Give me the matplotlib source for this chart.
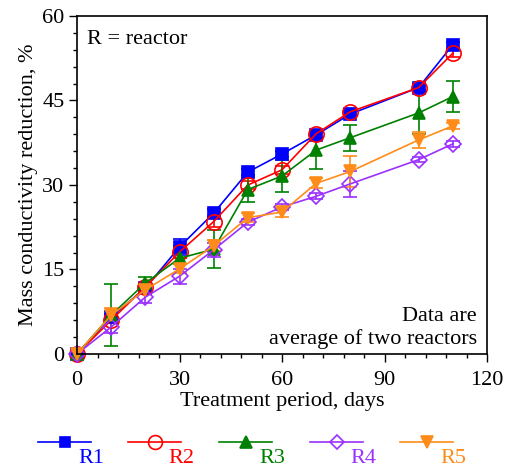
import numpy as np
import matplotlib
matplotlib.use("Agg")
import matplotlib.pyplot as plt
from matplotlib.lines import Line2D

plt.rcParams['font.family'] = ['Liberation Serif', 'DejaVu Serif']
plt.rcParams['font.size'] = 16

# treatment days and mean reduction (%) for each reactor
days = [0, 10, 20, 30, 40, 50, 60, 70, 80, 100, 110]
r1 = [0, 6.6, 11.7, 19.0, 25.0, 32.3, 35.5, 38.9, 42.6, 47.3, 54.9]
r2 = [0, 6.0, 11.9, 18.1, 23.5, 30.0, 32.7, 39.1, 43.0, 47.3, 53.4]
r3 = [0, 6.9, 12.6, 17.0, 18.6, 29.2, 31.6, 36.2, 38.4, 42.8, 45.7]
r4 = [0, 4.8, 10.1, 13.8, 18.5, 23.4, 26.1, 28.0, 30.2, 34.5, 37.3]
r5 = [0, 6.9, 11.4, 15.1, 19.2, 24.2, 25.2, 30.3, 32.4, 38.0, 40.5]

# standard deviations
e1 = [0, 0.5, 0.5, 1.4, 0.7, 0.5, 0.5, 0.5, 0.5, 0.5, 0.5]
e2 = [0, 0.5, 0.5, 1.0, 1.0, 0.7, 0.7, 0.5, 0.5, 0.7, 0.7]
e3 = [0, 5.5, 1.0, 1.0, 3.4, 2.3, 2.8, 3.4, 2.3, 3.7, 2.8]
e4 = [0, 1.0, 1.0, 1.3, 1.2, 0.5, 0.5, 0.5, 2.3, 0.5, 0.5]
e5 = [0, 1.2, 0.8, 0.8, 1.0, 0.8, 0.8, 0.9, 2.7, 1.4, 0.5]

labels = ['R1', 'R2', 'R3', 'R4', 'R5']
colors = ['#0000ff', '#ff0000', '#008000', '#9b30ff', '#ff8c1a']
markers = ['s', 'o', '^', 'D', 'v']
msizes = [8, 11, 9, 8, 9]
filled = [True, False, True, False, True]

fig = plt.figure(figsize=(5.08, 4.69), dpi=100)
ax = fig.add_axes([0.1516, 0.2452, 0.8071, 0.7207])

series = [(r1, e1), (r2, e2), (r3, e3), (r4, e4), (r5, e5)]
for (y, e), c, m, ms, f in zip(series, colors, markers, msizes, filled):
    ax.errorbar(days, y, yerr=e, color=c, marker=m, ms=ms, lw=1.2,
                mfc=c if f else 'none', mec=c, mew=1.2,
                capsize=5, capthick=1.2, elinewidth=1.2, clip_on=False)

ax.set_xlim(0, 120)
ax.set_ylim(0, 60)
ax.set_xticks(np.arange(0, 121, 30))
ax.set_yticks(np.arange(0, 61, 15))
ax.set_xticks(np.arange(0, 121, 6), minor=True)
ax.set_yticks(np.arange(0, 61, 3), minor=True)
ax.tick_params(which='major', direction='out', length=6, width=1, pad=3,
               top=False, right=False)
ax.tick_params(axis='x', which='major', pad=6)
ax.tick_params(which='minor', direction='out', length=3, width=1, top=False, right=False)
for s in ax.spines.values():
    s.set_linewidth(1.2)

ax.set_xlabel('Treatment period, days', labelpad=2)
ax.set_ylabel('Mass conductivity reduction, %', labelpad=3)

ax.text(0.025, 0.96, 'R = reactor', transform=ax.transAxes, ha='left', va='top')
ax.text(0.975, 0.015, 'Data are\naverage of two reactors', transform=ax.transAxes,
        ha='right', va='bottom', multialignment='right', linespacing=1.2)

# legend row under the axes: line + marker, label offset below-right
W, H = 508, 469
line_x0 = [38, 128, 219, 310, 400]
for x0, lab, c, m, ms, f in zip(line_x0, labels, colors, markers, msizes, filled):
    yl = 1 - 442 / H
    fig.add_artist(Line2D([x0 / W, (x0 + 53) / W], [yl, yl], color=c, lw=1.2,
                          transform=fig.transFigure))
    fig.add_artist(Line2D([(x0 + 27) / W], [yl], color=c, marker=m, ms=ms - 1,
                          mfc=c if f else 'none', mec=c, mew=1.2,
                          transform=fig.transFigure))
    fig.text((x0 + 40) / W, 1 - 458 / H, lab, color=c, ha='left', va='center')

fig.savefig('out.png', dpi=100)
